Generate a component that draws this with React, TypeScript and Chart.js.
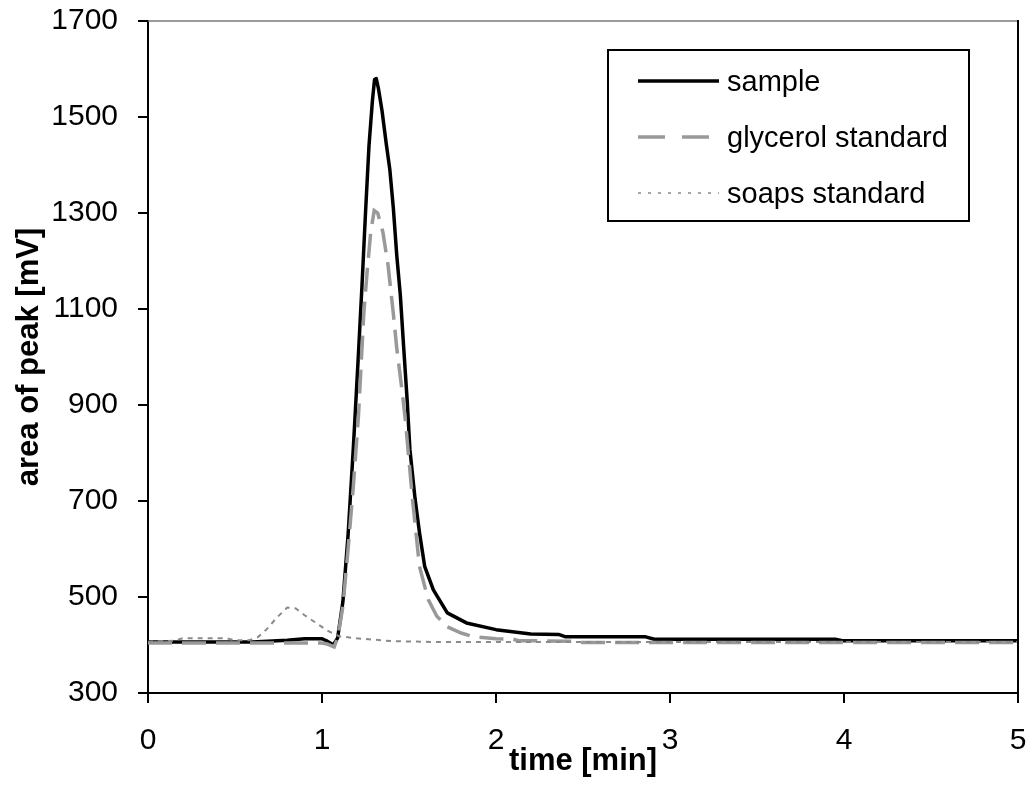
import React, { useEffect, useRef } from "react";
import { Chart, registerables } from "chart.js";

Chart.register(...registerables);

// ---- data ----
const sampleTime = [0, 0.6, 0.8, 0.9, 1.0, 1.03, 1.065, 1.09, 1.12, 1.15, 1.18, 1.21, 1.23, 1.25, 1.27, 1.29, 1.302, 1.312, 1.325, 1.345, 1.37, 1.39, 1.41, 1.43, 1.45, 1.47, 1.49, 1.505, 1.535, 1.56, 1.59, 1.64, 1.72, 1.83, 2.0, 2.2, 2.36, 2.4, 2.86, 2.91, 3.95, 3.99, 5];
const sampleValue = [406, 406, 410, 413, 413, 408, 400, 415, 490, 630, 810, 1010, 1150, 1300, 1440, 1535, 1578, 1580, 1558, 1513, 1442, 1390, 1310, 1210, 1130, 1017, 907, 808, 704, 635, 564, 515, 467, 446, 432, 423, 422, 417, 417, 412, 412, 409, 409];

const glycerolTime = [0, 1.0, 1.03, 1.07, 1.09, 1.12, 1.15, 1.18, 1.21, 1.24, 1.26, 1.28, 1.3, 1.32, 1.35, 1.38, 1.41, 1.43, 1.46, 1.48, 1.52, 1.56, 1.61, 1.66, 1.72, 1.8, 1.87, 2.0, 2.1, 2.13, 2.45, 2.5, 5];
const glycerolValue = [404, 404, 402, 396, 415, 480, 600, 730, 880, 1090, 1180, 1260, 1305, 1300, 1260, 1190, 1090, 1017, 930, 865, 704, 564, 495, 460, 438, 425, 417, 413, 412, 409, 408, 405, 405];

const soapsTime = [0, 0.15, 0.2, 0.45, 0.5, 0.58, 0.63, 0.68, 0.74, 0.8, 0.85, 0.9, 0.97, 1.03, 1.1, 1.2, 1.4, 1.7, 5];
const soapsValue = [407, 409, 414, 414, 410, 410, 416, 432, 457, 478, 476, 462, 445, 430, 418, 414, 408, 406, 406];

const xTicks = [0, 1, 2, 3, 4, 5];
const yTicks = [300, 500, 700, 900, 1100, 1300, 1500, 1700];
const seriesNames = ["sample", "glycerol standard", "soaps standard"];

const FONT = "'Liberation Sans', Arial, Helvetica, sans-serif";

const toPoints = (t: number[], v: number[]) => t.map((x, i) => ({ x, y: v[i] }));

const framePlugin = {
  id: "frameLegend",
  afterDraw(chart: any) {
    const { ctx, chartArea: a } = chart;
    ctx.save();
    // top and right frame
    ctx.strokeStyle = "#7a7a7a";
    ctx.lineWidth = 1.5;
    ctx.beginPath();
    ctx.moveTo(a.left, a.top);
    ctx.lineTo(a.right, a.top);
    ctx.stroke();
    ctx.strokeStyle = "#000";
    ctx.lineWidth = 2;
    ctx.beginPath();
    ctx.moveTo(a.right, a.top - 1);
    ctx.lineTo(a.right, a.bottom);
    ctx.stroke();

    // legend box
    const bx = 608, by = 50, bw = 361, bh = 171;
    ctx.fillStyle = "#fff";
    ctx.fillRect(bx, by, bw, bh);
    ctx.strokeStyle = "#000";
    ctx.lineWidth = 2;
    ctx.strokeRect(bx, by, bw, bh);

    const rows = [81, 137, 193];
    const x0 = 638, x1 = 719;
    // sample
    ctx.setLineDash([]);
    ctx.strokeStyle = "#000";
    ctx.lineWidth = 3.5;
    ctx.beginPath(); ctx.moveTo(x0, rows[0]); ctx.lineTo(x1, rows[0]); ctx.stroke();
    // glycerol
    ctx.setLineDash([27, 17]);
    ctx.strokeStyle = "#999";
    ctx.lineWidth = 3.5;
    ctx.beginPath(); ctx.moveTo(x0, rows[1]); ctx.lineTo(x1 - 9, rows[1]); ctx.stroke();
    // soaps
    ctx.setLineDash([3, 7]);
    ctx.strokeStyle = "#888";
    ctx.lineWidth = 1.5;
    ctx.beginPath(); ctx.moveTo(x0, rows[2]); ctx.lineTo(x1, rows[2]); ctx.stroke();
    ctx.setLineDash([]);

    ctx.fillStyle = "#000";
    ctx.font = `29px ${FONT}`;
    ctx.textAlign = "left";
    ctx.textBaseline = "alphabetic";
    seriesNames.forEach((n, i) => ctx.fillText(n, 727, rows[i] + 10));
    ctx.restore();
  },
};

export default function App() {
  const ref = useRef<HTMLCanvasElement | null>(null);
  useEffect(() => {
    if (!ref.current) return;
    const chart = new Chart(ref.current, {
      type: "scatter",
      data: {
        datasets: [
          {
            label: seriesNames[2],
            data: toPoints(soapsTime, soapsValue),
            showLine: true,
            borderColor: "#8a8a8a",
            borderWidth: 2,
            borderDash: [5, 5],
            pointRadius: 0,
            order: 1,
          },
          {
            label: seriesNames[1],
            data: toPoints(glycerolTime, glycerolValue),
            showLine: true,
            borderColor: "#999999",
            borderWidth: 3.5,
            borderDash: [24, 10],
            pointRadius: 0,
            order: 2,
          },
          {
            label: seriesNames[0],
            data: toPoints(sampleTime, sampleValue),
            showLine: true,
            borderColor: "#000000",
            borderWidth: 3.5,
            pointRadius: 0,
            borderJoinStyle: "round",
            borderCapStyle: "round",
            order: 3,
          },
        ] as any,
      },
      options: {
        animation: false,
        responsive: true,
        maintainAspectRatio: false,
        layout: { padding: { top: 21, right: 16, left: 0, bottom: 0 } },
        plugins: { legend: { display: false }, tooltip: { enabled: false } },
        scales: {
          x: {
            type: "linear",
            min: 0,
            max: 5,
            afterBuildTicks: (s: any) => { s.ticks = xTicks.map((v) => ({ value: v })); },
            afterFit: (s: any) => { s.height = 96; s.paddingLeft = 0; s.paddingRight = 0; },
            ticks: { color: "#000", font: { family: FONT, size: 30, lineHeight: 1 }, padding: 23, maxRotation: 0, callback: (v: any) => String(v) },
            grid: { drawOnChartArea: false, drawTicks: true, tickLength: 10, color: "#000", lineWidth: 2 },
            border: { display: true, color: "#000", width: 2 },
            title: {
              display: true,
              text: "time [min]",
              color: "#000",
              font: { family: FONT, size: 31, weight: "bold", lineHeight: 1 },
              padding: { top: 0, bottom: 12.5 },
            },
          },
          y: {
            type: "linear",
            min: 300,
            max: 1700,
            afterBuildTicks: (s: any) => { s.ticks = yTicks.map((v) => ({ value: v })); },
            afterFit: (s: any) => { s.width = 148; s.paddingTop = 0; s.paddingBottom = 0; },
            ticks: { color: "#000", font: { family: FONT, size: 30, lineHeight: 1 }, padding: 20, callback: (v: any) => String(v) },
            grid: { drawOnChartArea: false, drawTicks: true, tickLength: 10, color: "#000", lineWidth: 2 },
            border: { display: true, color: "#000", width: 2 },
            title: {
              display: true,
              text: "area of peak [mV]",
              color: "#000",
              font: { family: FONT, size: 31, weight: "bold", lineHeight: 1 },
              padding: { top: 13.5, bottom: 0 },
            },
          },
        },
      },
      plugins: [framePlugin],
    } as any);
    return () => chart.destroy();
  }, []);

  return (
    <div style={{ position: "fixed", left: 0, top: 0, width: 1034, height: 789, background: "#fff" }}>
      <canvas ref={ref} />
    </div>
  );
}
